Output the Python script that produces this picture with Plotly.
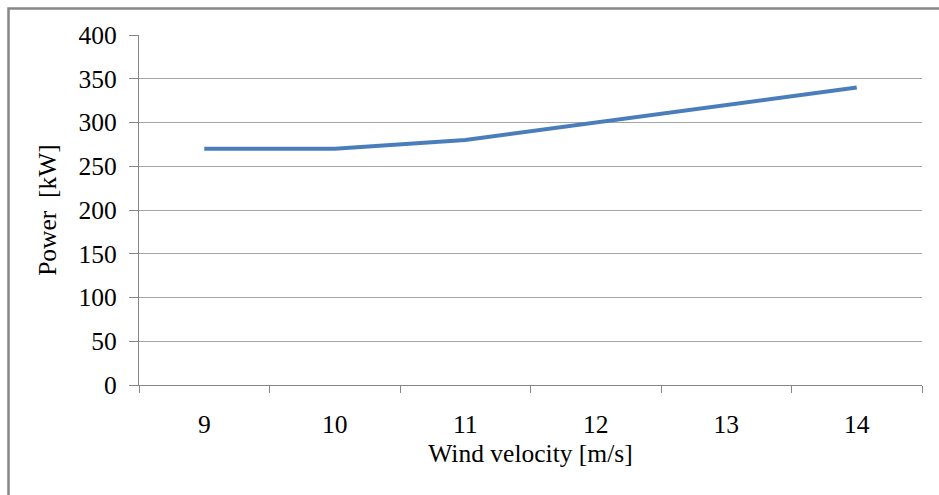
import plotly.graph_objects as go

categories = ["9", "10", "11", "12", "13", "14"]
power_kw = [270, 270, 280, 300, 320, 340]
y_ticks = [0, 50, 100, 150, 200, 250, 300, 350, 400]

W, H = 939, 495
L, R, T, B = 139, 17, 35, 110
pw, ph = W - L - R, H - T - B

fig = go.Figure()
fig.add_trace(go.Scatter(
    x=categories, y=power_kw, mode="lines",
    line=dict(color="#4a7ebb", width=4),
    showlegend=False, hoverinfo="skip",
))

font = dict(family="Liberation Serif, Times New Roman, serif", size=25.5, color="#000000")

fig.update_layout(
    width=W, height=H,
    margin=dict(l=L, r=R, t=T, b=B),
    paper_bgcolor="white", plot_bgcolor="white",
    font=font,
    xaxis=dict(
        type="category", range=[-0.5, 5.5], tickson="boundaries",
        ticks="outside", ticklen=7, tickcolor="#868686", tickwidth=1.3,
        showline=True, linecolor="#868686", linewidth=1.3,
        showgrid=False, zeroline=False,
        tickfont=font, ticklabelstandoff=16,
        title=dict(text="Wind velocity [m/s]", font=font, standoff=5),
    ),
    yaxis=dict(
        range=[0, 400], tickvals=y_ticks,
        ticks="outside", ticklen=9, tickcolor="#868686", tickwidth=1.3,
        showline=True, linecolor="#868686", linewidth=1.3,
        showgrid=True, gridcolor="#a6a6a6", gridwidth=1.3,
        zeroline=False,
        tickfont=font, ticklabelstandoff=7,
        title=dict(text="Power  [kW]", font=font, standoff=14),
    ),
)

# outer chart border (only top and left edges visible in frame)
x0 = (8.5 - L) / pw
y1 = (H - B - 8.5) / ph
fig.add_shape(type="rect", xref="paper", yref="paper",
              x0=x0, x1=1.2, y0=-0.6, y1=y1,
              line=dict(color="#878787", width=2.5), fillcolor="rgba(0,0,0,0)",
              layer="below")

fig.write_html("out.html")
